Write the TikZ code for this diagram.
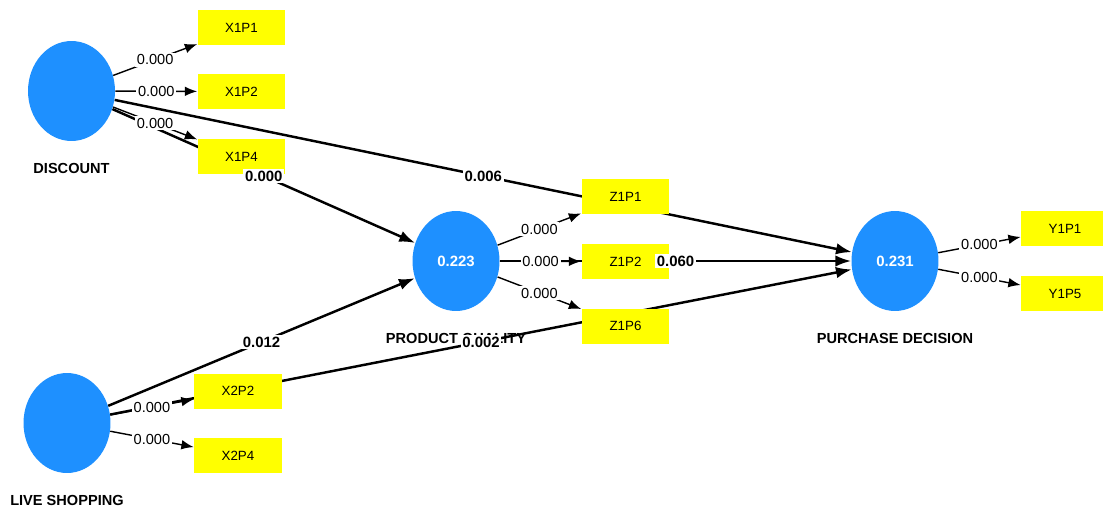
\documentclass[tikz,border=0pt]{standalone}
\usepackage{fontspec}
\setmainfont{Liberation Sans}
\usetikzlibrary{arrows.meta,positioning,shapes.geometric}
\definecolor{lvblue}{RGB}{30,144,255}
\definecolor{mvyellow}{RGB}{255,255,0}
\pgfdeclarelayer{bg}
\pgfsetlayers{bg,main}
\tikzset{
	lv/.style={ellipse, fill=lvblue, minimum width=1.74cm, minimum height=2cm, inner sep=0, text=white, font=\fontsize{8.5}{10}\selectfont\bfseries},
	lvname/.style={inner sep=0, font=\fontsize{8.3}{10}\selectfont\bfseries},
	mv/.style={rectangle, fill=mvyellow, minimum width=1.76cm, minimum height=0.7cm, inner sep=0, font=\fontsize{7.6}{9}\selectfont},
	load/.style={line width=0.8pt, -{Latex[length=7pt,width=5.5pt]}},
	inner/.style={line width=1.4pt, -{Latex[length=9pt,width=6.5pt]}},
	loadlbl/.style={fill=white, inner sep=1pt, font=\fontsize{8.3}{10}\selectfont},
	coef/.style={fill=white, inner sep=1pt, font=\fontsize{8.5}{10}\selectfont\bfseries}
}
\begin{document}
\begin{tikzpicture}[x=0.02cm, y=-0.02cm]
	%%%%% START %%%%%
	\useasboundingbox (0, 0) rectangle (1103, 511);
	
	% latent variables
	\node[lv] (dis) at (71.5, 91) {};
	\node[lvname, below=0.44cm of dis] (disname) {DISCOUNT};
	\node[lv] (ls) at (67, 423) {};
	\node[lvname, below=0.44cm of ls] (lsname) {LIVE SHOPPING};
	\node[lv] (pq) at (456, 261) {0.223};
	\node[lvname, below=0.44cm of pq] (pqname) {PRODUCT QUALITY};
	\node[lv] (pd) at (895, 261) {0.231};
	\node[lvname, below=0.44cm of pd] (pdname) {PURCHASE DECISION};
	
	% indicators
	\node[mv] (x1p1) at (241.5, 27.5) {X1P1};
	\node[mv] (x1p2) at (241.5, 91.5) {X1P2};
	\node[mv] (x1p4) at (241.5, 156.5) {X1P4};
	\node[mv] (x2p2) at (238, 391) {X2P2};
	\node[mv] (x2p4) at (238, 455.5) {X2P4};
	\node[mv] (z1p1) at (625.5, 196.5) {Z1P1};
	\node[mv] (z1p2) at (625.5, 261.5) {Z1P2};
	\node[mv] (z1p6) at (625.5, 326) {Z1P6};
	\node[mv] (y1p1) at (1065, 228.5) {Y1P1};
	\node[mv] (y1p5) at (1065, 293.5) {Y1P5};
	
	% inner model, under the boxes
	\begin{pgfonlayer}{bg}
		\draw[inner] (dis) -- (pq);
		\draw[inner] (dis) -- (pd);
		\draw[inner] (ls) -- (pq);
		\draw[inner] (ls) -- (pd);
		\draw[inner] (pq) -- (pd);
	\end{pgfonlayer}
	\path (dis) -- node[coef] {0.000} (pq);
	\path (dis) -- node[coef] {0.006} (pd);
	\path (ls) -- node[coef] {0.012} (pq);
	\path (ls) -- node[coef] {0.002} (pd);
	\path (pq) -- node[coef] {0.060} (pd);
	
	% outer model
	\draw[load] (dis) -- node[loadlbl] {0.000} (x1p1);
	\draw[load] (dis) -- node[loadlbl] {0.000} (x1p2);
	\draw[load] (dis) -- node[loadlbl] {0.000} (x1p4);
	\draw[load] (ls) -- node[loadlbl] {0.000} (x2p2);
	\draw[load] (ls) -- node[loadlbl] {0.000} (x2p4);
	\draw[load] (pq) -- node[loadlbl] {0.000} (z1p1);
	\draw[load] (pq) -- node[loadlbl] {0.000} (z1p2);
	\draw[load] (pq) -- node[loadlbl] {0.000} (z1p6);
	\draw[load] (pd) -- node[loadlbl] {0.000} (y1p1);
	\draw[load] (pd) -- node[loadlbl] {0.000} (y1p5);
	
	%%%%% END %%%%%
\end{tikzpicture}
\end{document}
